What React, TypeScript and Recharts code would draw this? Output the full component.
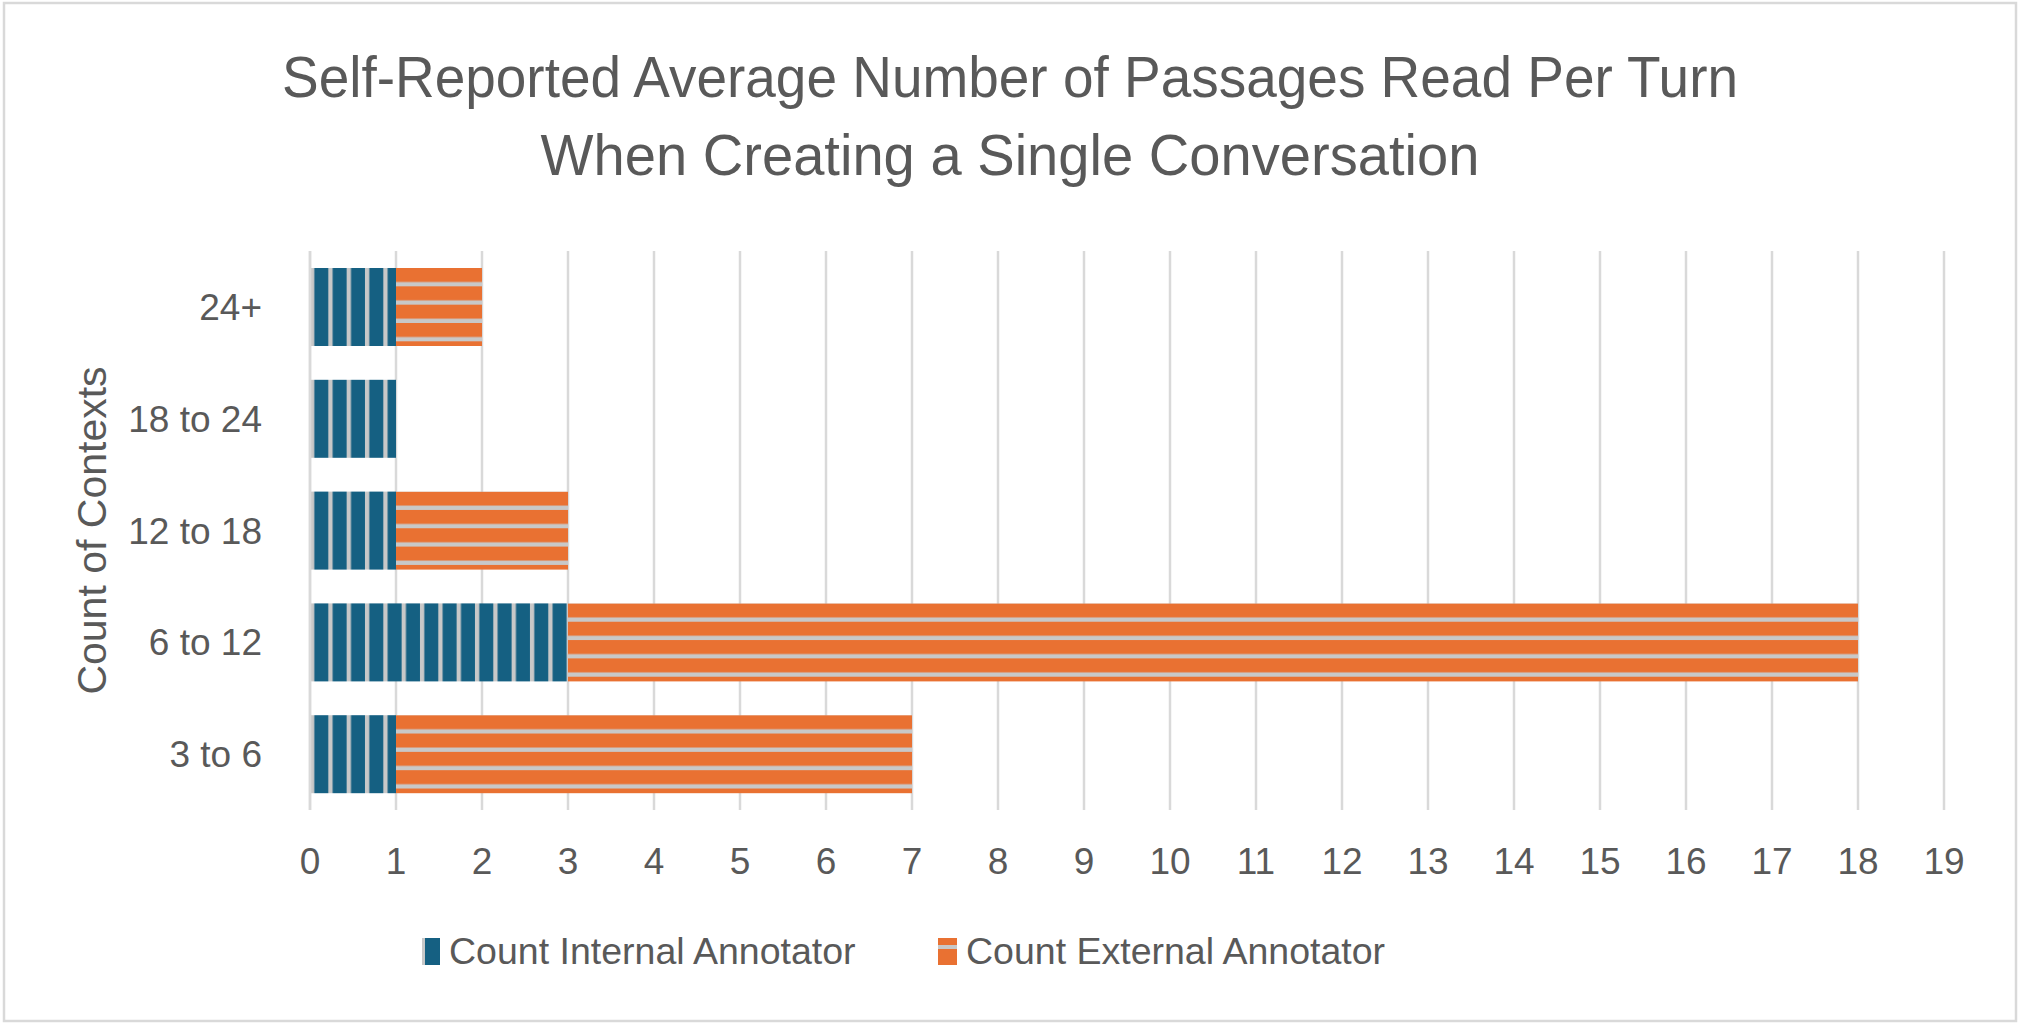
import React from "react";
import { BarChart, Bar, XAxis, YAxis, CartesianGrid, Label } from "recharts";

const contextBins = ["24+", "18 to 24", "12 to 18", "6 to 12", "3 to 6"];
const internalCounts = [1, 1, 1, 3, 1];
const externalCounts = [1, 0, 2, 15, 6];
const xTicks = [0, 1, 2, 3, 4, 5, 6, 7, 8, 9, 10, 11, 12, 13, 14, 15, 16, 17, 18, 19];
const titleLines = [
  "Self-Reported Average Number of Passages Read Per Turn",
  "When Creating a Single Conversation",
];
const yAxisTitle = "Count of Contexts";
const seriesNames = ["Count Internal Annotator", "Count External Annotator"];

const data = contextBins.map((bin, i) => ({
  bin,
  internal: internalCounts[i],
  external: externalCounts[i],
}));

const FONT = '"Liberation Sans", Arial, sans-serif';
const TEXT = "#595959";
const GRID = "#d9d9d9";
const BLUE = "#156082";
const ORANGE = "#e97132";
const GAP = "#c8c8c8";
const STRIPE = 18.33;
// widths of the two title lines in the original
const titleWidths = [1456, 939];

function InternalBar(props: any) {
  const { x, y, width, height, index } = props;
  if (!width || width <= 0) return null;
  const id = `int-stripe-${index}`;
  return (
    <g>
      <defs>
        <pattern id={id} patternUnits="userSpaceOnUse" x={x} y={y} width={STRIPE} height={height}>
          <rect x={0} y={0} width={STRIPE} height={height} fill={GAP} />
          <rect x={4.3} y={0} width={14} height={height} fill={BLUE} />
        </pattern>
      </defs>
      <rect x={x} y={y} width={width} height={height} fill={`url(#${id})`} />
    </g>
  );
}

function ExternalBar(props: any) {
  const { x, y, width, height, index } = props;
  if (!width || width <= 0) return null;
  const id = `ext-stripe-${index}`;
  return (
    <g>
      <defs>
        <pattern id={id} patternUnits="userSpaceOnUse" x={x} y={y} width={width} height={STRIPE}>
          <rect x={0} y={0} width={width} height={STRIPE} fill={GAP} />
          <rect x={0} y={0} width={width} height={14} fill={ORANGE} />
        </pattern>
      </defs>
      <rect x={x} y={y} width={width} height={height} fill={`url(#${id})`} />
    </g>
  );
}

function AxisTitle(props: any) {
  const vb = props.viewBox || { x: 110, y: 251, height: 559 };
  const cx = vb.x - 4;
  const cy = vb.y + vb.height / 2;
  return (
    <text
      x={cx}
      y={cy}
      transform={`rotate(-90 ${cx} ${cy})`}
      textAnchor="middle"
      fill={TEXT}
      fontSize={41}
      fontFamily={FONT}
    >
      {yAxisTitle}
    </text>
  );
}

export default function App() {
  return (
    <div
      style={{
        position: "absolute",
        left: 0,
        top: 0,
        width: 2025,
        height: 1031,
        background: "#fff",
        fontFamily: FONT,
      }}
    >
      <BarChart
        width={2025}
        height={1031}
        data={data}
        layout="vertical"
        margin={{ top: 251, right: 81, bottom: 161, left: 110 }}
      >
        <CartesianGrid horizontal={false} stroke={GRID} strokeWidth={2.5} />
        <XAxis
          type="number"
          domain={[0, 19]}
          ticks={xTicks}
          interval={0}
          axisLine={false}
          tickLine={false}
          tickSize={0}
          tickMargin={38}
          height={60}
          tick={{ fill: TEXT, fontSize: 37, fontFamily: FONT }}
        />
        <YAxis
          type="category"
          dataKey="bin"
          width={200}
          axisLine={{ stroke: GRID, strokeWidth: 2.5 }}
          tickLine={false}
          tickSize={0}
          tickMargin={48}
          tick={{ fill: TEXT, fontSize: 37, fontFamily: FONT }}
        >
          <Label content={AxisTitle} />
        </YAxis>
        <Bar
          dataKey="internal"
          name={seriesNames[0]}
          stackId="a"
          barSize={78}
          fill={BLUE}
          shape={InternalBar}
          isAnimationActive={false}
        />
        <Bar
          dataKey="external"
          name={seriesNames[1]}
          stackId="a"
          barSize={78}
          fill={ORANGE}
          shape={ExternalBar}
          isAnimationActive={false}
        />
      </BarChart>

      <svg
        width={2025}
        height={1031}
        style={{ position: "absolute", left: 0, top: 0, pointerEvents: "none" }}
      >
        <rect x={4} y={3} width={2012} height={1018} fill="none" stroke={GRID} strokeWidth={2.5} />
        {titleLines.map((line, i) => (
          <text
            key={line}
            x={1010}
            y={97 + i * 78}
            textAnchor="middle"
            fill={TEXT}
            fontSize={57}
            fontFamily={FONT}
            textLength={titleWidths[i]}
            lengthAdjust="spacingAndGlyphs"
          >
            {line}
          </text>
        ))}
        <g>
          <rect x={422} y={938} width={3} height={27} fill={GAP} />
          <rect x={425} y={938} width={15} height={27} fill={BLUE} />
          <text x={449} y={964} fill={TEXT} fontSize={37.5} fontFamily={FONT}>
            {seriesNames[0]}
          </text>
        </g>
        <g>
          <rect x={938} y={938} width={19} height={27} fill={ORANGE} />
          <rect x={938} y={945} width={19} height={4} fill={GAP} />
          <text x={966} y={964} fill={TEXT} fontSize={37.5} fontFamily={FONT}>
            {seriesNames[1]}
          </text>
        </g>
      </svg>
    </div>
  );
}
